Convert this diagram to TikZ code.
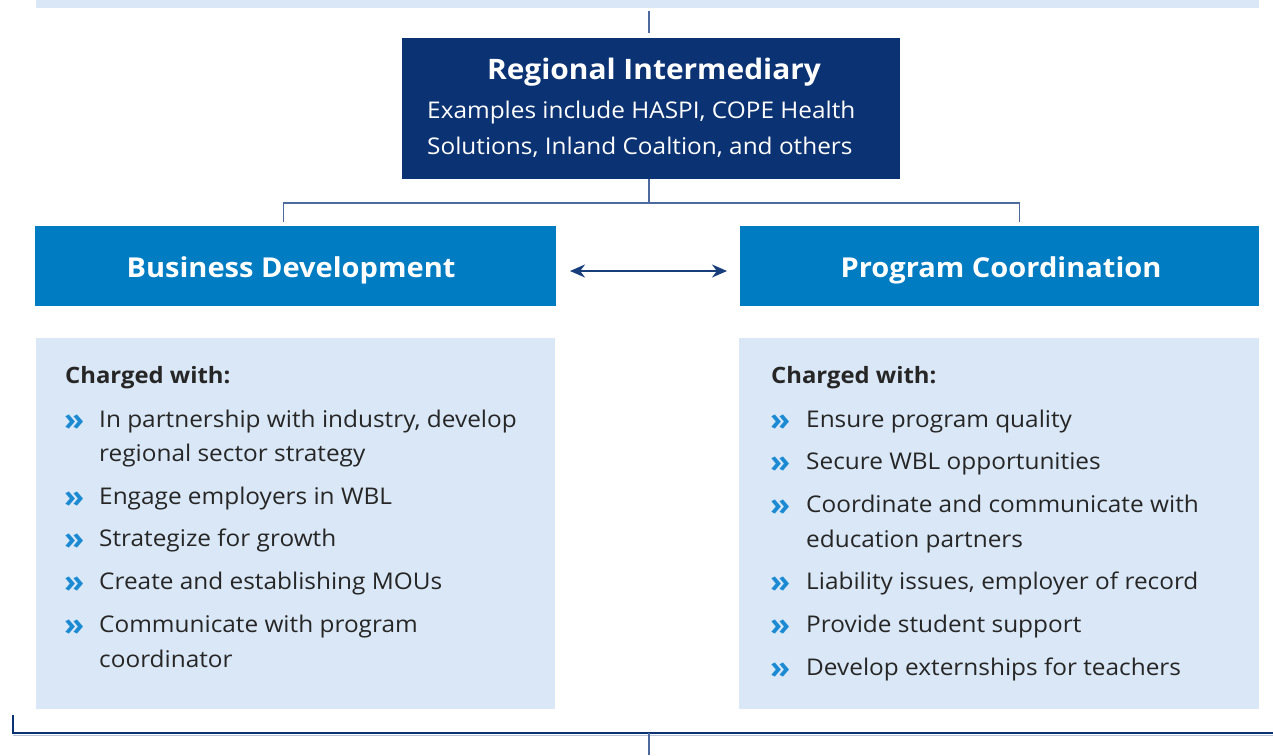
\documentclass[tikz,border=0pt]{standalone}
\usepackage{fontspec}
\setmainfont{Open Sans}[FakeStretch=1.06]
\usetikzlibrary{arrows.meta}
\definecolor{navy}{HTML}{0B3272}
\definecolor{midblue}{HTML}{007CC2}
\definecolor{lightblue}{HTML}{D9E7F6}
\definecolor{conncol}{HTML}{4D6AA0}
\definecolor{txtcol}{HTML}{262626}
\definecolor{bulcol}{HTML}{1B8AD3}
\begin{document}
\begin{tikzpicture}[x=1pt,y=-1pt,
  panel/.style={draw=none, inner sep=0pt, outer sep=0pt, anchor=north west},
  conn/.style={draw=conncol, line width=1.4pt},
  headtxt/.style={anchor=base, inner sep=0pt, text=white, font=\bfseries\fontsize{27.4}{32}\selectfont},
  subtxt/.style={anchor=base west, inner sep=0pt, text=white, font=\fontsize{23}{28}\selectfont},
  chtxt/.style={anchor=base west, inner sep=0pt, text=txtcol, font=\bfseries\fontsize{22.5}{28}\selectfont},
  itemtxt/.style={anchor=base west, inner sep=0pt, text=txtcol, font=\fontsize{23}{28}\selectfont},
  bulmark/.style={anchor=base west, inner sep=0pt, text=bulcol, yshift=-3pt, font=\bfseries\fontsize{31}{32}\selectfont}
]
\useasboundingbox (0,0) rectangle (1273,755);

% boxes
\node[panel, fill=lightblue, minimum width=1223pt, minimum height=8pt] (top) at (36,0) {};
\node[panel, fill=navy, minimum width=498pt, minimum height=141pt] (reg) at (402,38) {};
\node[panel, fill=midblue, minimum width=521pt, minimum height=80pt] (bd) at (35,226) {};
\node[panel, fill=midblue, minimum width=519pt, minimum height=80pt] (pc) at (740,226) {};
\node[panel, fill=lightblue, minimum width=519pt, minimum height=371pt] (lbox) at (36,338) {};
\node[panel, fill=lightblue, minimum width=520pt, minimum height=371pt] (rbox) at (739,338) {};

% connectors
\coordinate (junc) at (649,203);
\draw[conn, shorten <=3pt, shorten >=5pt] (junc |- top.south) -- (junc |- reg.north);
\draw[conn] (junc |- reg.south) -- (junc);
\draw[conn, shorten >=4pt] (junc) -| ([xshift=-12pt]bd.north);
\draw[conn, shorten >=4pt] (junc) -| ([xshift=20pt]pc.north);
\draw[draw=navy!80!conncol, line width=2pt, {Stealth[length=15pt,width=13pt]}-{Stealth[length=15pt,width=13pt]}, shorten <=14pt, shorten >=13pt]
  ([yshift=-5pt]bd.east) -- ([yshift=-5pt]pc.west);

\coordinate (bl) at (13,715);
\coordinate (br) at (1273,733);
\coordinate (bm) at (649,755);
\draw[draw=conncol!40, line width=1pt] ([yshift=-2.2pt]bl |- br) -- ([yshift=-2.2pt]br);
\draw[draw=navy, line width=1.4pt] (bl) |- (br);
\draw[conn] (bm |- br) -- (bm);

% texts
\node[headtxt, font=\bfseries\fontsize{28.2}{32}\selectfont] (regt) at (654,79) {Regional Intermediary};
\node[subtxt] (rega) at (427,118) {Examples include HASPI, COPE Health};
\node[subtxt] (regb) at (427,154) {Solutions, Inland Coaltion, and others};
\node[headtxt] (bdt) at (291,277) {Business Development};
\node[headtxt] (pct) at (1001,277) {Program Coordination};

% left list
\node[chtxt] (lch) at (65,383) {Charged with:};
\node[bulmark] (lb1) at (64,427) {»};
\node[itemtxt] (l1a) at (99,427) {In partnership with industry, develop};
\node[itemtxt] (l1b) at (99,461) {regional sector strategy};
\node[bulmark] (lb2) at (64,504) {»};
\node[itemtxt] (l2) at (99,504) {Engage employers in WBL};
\node[bulmark] (lb3) at (64,546) {»};
\node[itemtxt] (l3) at (99,546) {Strategize for growth};
\node[bulmark] (lb4) at (64,589) {»};
\node[itemtxt] (l4) at (99,589) {Create and establishing MOUs};
\node[bulmark] (lb5) at (64,632) {»};
\node[itemtxt] (l5a) at (99,632) {Communicate with program};
\node[itemtxt] (l5b) at (99,667) {coordinator};

% right list
\node[chtxt] (rch) at (771,383) {Charged with:};
\node[bulmark] (rb1) at (770,427) {»};
\node[itemtxt] (r1) at (806,427) {Ensure program quality};
\node[bulmark] (rb2) at (770,469) {»};
\node[itemtxt] (r2) at (806,469) {Secure WBL opportunities};
\node[bulmark] (rb3) at (770,512) {»};
\node[itemtxt] (r3a) at (806,512) {Coordinate and communicate with};
\node[itemtxt] (r3b) at (806,547) {education partners};
\node[bulmark] (rb4) at (770,589) {»};
\node[itemtxt] (r4) at (806,589) {Liability issues, employer of record};
\node[bulmark] (rb5) at (770,632) {»};
\node[itemtxt] (r5) at (806,632) {Provide student support};
\node[bulmark] (rb6) at (770,675) {»};
\node[itemtxt] (r6) at (806,675) {Develop externships for teachers};
\end{tikzpicture}
\end{document}
